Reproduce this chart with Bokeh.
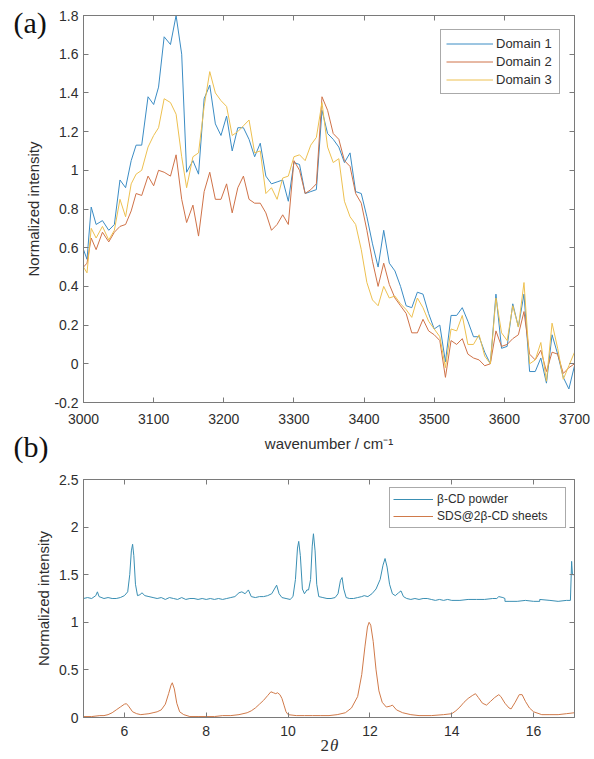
from bokeh.plotting import figure
from bokeh.models import (Range1d, LinearAxis, FixedTicker, CustomJSTickFormatter,
                          Legend, LegendItem, Label, GridBox)
from bokeh.layouts import column
from bokeh.embed import file_html
from bokeh.resources import INLINE

# ---------------- data: panel (a) ----------------
wavenumber = [3000, 3005, 3011, 3018, 3027, 3036, 3044, 3052, 3060, 3068, 3075, 3083,
              3092, 3100, 3107, 3115, 3124, 3132, 3140, 3147, 3156, 3164, 3172,
              3180, 3188, 3196, 3204, 3212, 3220, 3228, 3236, 3244, 3252, 3260, 3268,
              3276, 3284, 3292, 3300, 3308, 3316, 3324, 3332, 3340, 3348, 3356, 3364,
              3372, 3380, 3388, 3396, 3404, 3412, 3420, 3428, 3436, 3444, 3452, 3460,
              3468, 3476, 3484, 3492, 3500, 3508, 3516, 3524, 3532, 3540, 3548, 3556,
              3564, 3572, 3580, 3588, 3596, 3604, 3612, 3620, 3628, 3636, 3644, 3652,
              3660, 3668, 3676, 3684, 3692, 3700]

domain1 = [0.59, 0.54, 0.81, 0.72, 0.74, 0.69, 0.72, 0.95, 0.91, 1.05, 1.13, 1.13,
           1.38, 1.34, 1.43, 1.69, 1.65, 1.80, 1.60, 0.99, 1.05, 0.98, 1.37,
           1.44, 1.24, 1.18, 1.28, 1.10, 1.22, 1.22, 1.16, 1.07, 1.14, 0.97, 0.93,
           0.94, 0.95, 0.84, 1.04, 1.03, 0.88, 0.89, 0.90, 1.31, 1.19, 1.16, 1.12,
           1.04, 1.09, 0.89, 0.88, 0.76, 0.62, 0.50, 0.69, 0.52, 0.48, 0.40, 0.30,
           0.29, 0.37, 0.36, 0.26, 0.18, 0.20, 0.01, 0.25, 0.25, 0.29, 0.22, 0.14,
           0.14, 0.06, 0.00, 0.36, 0.08, 0.09, 0.31, 0.19, 0.36, -0.04, -0.04, 0.03,
           -0.10, 0.15, 0.05, -0.07, -0.13, -0.01]

domain2 = [0.50, 0.52, 0.65, 0.59, 0.68, 0.63, 0.68, 0.71, 0.72, 0.79, 0.88, 0.87,
           0.97, 0.92, 1.00, 0.99, 0.97, 1.08, 0.85, 0.73, 0.82, 0.66, 0.89,
           0.99, 0.85, 0.85, 0.93, 0.78, 0.91, 0.97, 0.85, 0.83, 0.83, 0.78, 0.69,
           0.72, 0.77, 0.72, 1.05, 1.00, 0.88, 0.90, 0.93, 1.38, 1.31, 1.19, 1.16,
           1.05, 1.02, 0.88, 0.83, 0.69, 0.53, 0.40, 0.52, 0.41, 0.34, 0.30, 0.26,
           0.16, 0.16, 0.23, 0.17, 0.15, 0.12, -0.07, 0.12, 0.10, 0.13, 0.05, 0.03,
           0.02, -0.01, 0.00, 0.17, 0.09, 0.10, 0.13, 0.15, 0.27, 0.05, 0.02, 0.07,
           -0.04, 0.06, 0.05, -0.05, -0.02, 0.00]

domain3 = [0.50, 0.47, 0.70, 0.65, 0.71, 0.64, 0.69, 0.85, 0.76, 0.93, 0.98, 1.00,
           1.12, 1.18, 1.22, 1.37, 1.35, 1.29, 1.07, 0.91, 1.07, 1.09, 1.33,
           1.51, 1.40, 1.36, 1.33, 1.18, 1.20, 1.23, 1.26, 1.09, 1.10, 0.88, 0.91,
           0.85, 0.96, 0.97, 1.07, 1.08, 1.05, 1.13, 1.17, 1.35, 1.12, 1.04, 1.06,
           0.84, 0.76, 0.72, 0.59, 0.42, 0.33, 0.30, 0.40, 0.34, 0.35, 0.31, 0.28,
           0.24, 0.34, 0.29, 0.22, 0.18, 0.14, -0.02, 0.18, 0.17, 0.25, 0.10, 0.10,
           0.15, 0.04, 0.00, 0.34, 0.16, 0.12, 0.30, 0.19, 0.42, 0.00, 0.02, 0.11,
           -0.09, 0.21, 0.08, -0.08, -0.01, 0.06]

a_xticks = [3000, 3100, 3200, 3300, 3400, 3500, 3600, 3700]
a_yticks = [-0.2, 0, 0.2, 0.4, 0.6, 0.8, 1, 1.2, 1.4, 1.6, 1.8]
a_names = ["Domain 1", "Domain 2", "Domain 3"]

# ---------------- data: panel (b) ----------------
powder_2theta = [5.0, 5.1, 5.2, 5.3, 5.34, 5.38, 5.5, 5.6, 5.7, 5.8, 5.9, 6.0, 6.08,
                 6.13, 6.17, 6.2, 6.23, 6.27, 6.32, 6.38, 6.43, 6.5, 6.6, 6.7, 6.8,
                 6.9, 7.0, 7.1, 7.2, 7.3, 7.4, 7.5, 7.6, 7.7, 7.8, 7.9, 8.0, 8.1, 8.2,
                 8.3, 8.4, 8.5, 8.6, 8.7, 8.8, 8.87, 8.95, 9.03, 9.1, 9.2, 9.3, 9.4,
                 9.5, 9.6, 9.68, 9.72, 9.78, 9.85, 9.95, 10.05, 10.12, 10.18, 10.23,
                 10.26, 10.3, 10.35, 10.4, 10.46, 10.5, 10.55, 10.59, 10.62, 10.66,
                 10.7, 10.75, 10.85, 10.95, 11.05, 11.15, 11.22, 11.28, 11.32, 11.36,
                 11.42, 11.5, 11.6, 11.7, 11.8, 11.86, 11.95, 12.05, 12.15, 12.25,
                 12.32, 12.37, 12.42, 12.48, 12.55, 12.62, 12.7, 12.76, 12.82, 12.9,
                 13.0, 13.1, 13.2, 13.3, 13.4, 13.5, 13.6, 13.7, 13.8, 13.9, 14.0,
                 14.2, 14.4, 14.6, 14.8, 15.0, 15.1, 15.15, 15.25, 15.3, 15.3, 15.4,
                 15.6, 15.8, 16.0, 16.15, 16.15, 16.4, 16.6, 16.8, 16.9, 16.93, 16.95,
                 17.0]
powder = [1.25, 1.26, 1.25, 1.28, 1.32, 1.27, 1.25, 1.26, 1.25, 1.25, 1.26, 1.28, 1.32,
          1.50, 1.75, 1.82, 1.70, 1.40, 1.28, 1.29, 1.31, 1.28, 1.27, 1.26, 1.25,
          1.26, 1.24, 1.26, 1.25, 1.24, 1.26, 1.24, 1.25, 1.25, 1.24, 1.25, 1.24, 1.25, 1.24,
          1.25, 1.24, 1.25, 1.26, 1.27, 1.31, 1.32, 1.30, 1.34, 1.27, 1.26, 1.27, 1.27,
          1.28, 1.30, 1.36, 1.39, 1.30, 1.26, 1.25, 1.24, 1.27, 1.45, 1.78,
          1.85, 1.70, 1.35, 1.30, 1.34, 1.34, 1.45, 1.80, 1.93, 1.75,
          1.40, 1.27, 1.26, 1.25, 1.25, 1.26, 1.30, 1.44, 1.47, 1.35,
          1.26, 1.25, 1.25, 1.26, 1.27, 1.28, 1.27, 1.30, 1.35, 1.45,
          1.60, 1.67, 1.58, 1.40, 1.30, 1.28, 1.31, 1.33, 1.27, 1.25,
          1.24, 1.25, 1.24, 1.25, 1.25, 1.24, 1.23, 1.24, 1.23, 1.24, 1.23,
          1.23, 1.24, 1.24, 1.24, 1.25, 1.25, 1.27, 1.26, 1.25, 1.22, 1.22,
          1.22, 1.23, 1.22, 1.22, 1.24, 1.23, 1.22, 1.23, 1.23, 1.64, 1.50,
          1.50]

sheets_2theta = [5.0, 5.2, 5.4, 5.5, 5.6, 5.7, 5.8, 5.9, 6.0, 6.05, 6.1, 6.2, 6.3, 6.4,
                 6.5, 6.6, 6.7, 6.8, 6.9, 7.0, 7.08, 7.14, 7.17, 7.22, 7.28, 7.35,
                 7.45, 7.6, 7.8, 8.0, 8.2, 8.4, 8.6, 8.8, 9.0, 9.1, 9.2, 9.3, 9.4,
                 9.5, 9.58, 9.64, 9.7, 9.74, 9.8, 9.85, 9.9, 9.95, 10.0, 10.2, 10.4,
                 10.6, 10.8, 11.0, 11.2, 11.4, 11.55, 11.7, 11.8, 11.88, 11.94, 11.98,
                 12.02, 12.08, 12.15, 12.22, 12.3, 12.4, 12.5, 12.55, 12.65, 12.8,
                 13.0, 13.2, 13.5, 13.8, 14.0, 14.1, 14.2, 14.3, 14.4, 14.5, 14.58,
                 14.65, 14.75, 14.85, 14.95, 15.05, 15.15, 15.2, 15.3, 15.4, 15.45,
                 15.55, 15.65, 15.72, 15.8, 15.9, 16.0, 16.2, 16.4, 16.6, 16.8, 17.0]
sheets = [0.01, 0.01, 0.02, 0.02, 0.03, 0.05, 0.08, 0.11, 0.14, 0.145, 0.12, 0.06, 0.04, 0.03,
          0.035, 0.04, 0.05, 0.06, 0.08, 0.14, 0.25, 0.34, 0.365, 0.30, 0.15, 0.06,
          0.03, 0.01, 0.01, 0.01, 0.01, 0.02, 0.02, 0.03, 0.05, 0.07, 0.10, 0.14, 0.18,
          0.23, 0.27, 0.26, 0.25, 0.26, 0.24, 0.20, 0.13, 0.06, 0.03, 0.02, 0.02,
          0.02, 0.02, 0.02, 0.03, 0.05, 0.10, 0.22, 0.45, 0.75, 0.95, 1.00,
          0.97, 0.80, 0.50, 0.28, 0.16, 0.11, 0.12, 0.13, 0.08, 0.05,
          0.03, 0.02, 0.02, 0.03, 0.04, 0.07, 0.11, 0.16, 0.20, 0.23, 0.25,
          0.21, 0.15, 0.13, 0.17, 0.21, 0.24, 0.22, 0.15, 0.10, 0.09,
          0.16, 0.24, 0.24, 0.17, 0.10, 0.06, 0.03, 0.03, 0.03, 0.04, 0.05]

b_xticks = [6, 8, 10, 12, 14, 16]
b_yticks = [0, 0.5, 1, 1.5, 2, 2.5]
b_names = ["β-CD powder", "SDS@2β-CD sheets"]

panel_tags = ["(a)", "(b)"]
b_xlabel = ["2", "θ"]

# ---------------- style ----------------
AXIS_GRAY = "#7a7a7a"
TXT = "#2e2e2e"
FONT = "Liberation Sans"
SERIF = "Liberation Serif"
A_COLORS = ["#3b8cc4", "#cf7248", "#edc050"]
B_COLORS = ["#3a8fb3", "#d07a4a"]

FMT = "return String(Math.round(tick*10)/10);"


def style_axis(ax, ticks, show_labels=True, standoff=5):
    ax.ticker = FixedTicker(ticks=ticks)
    ax.formatter = CustomJSTickFormatter(code=FMT)
    ax.axis_line_color = AXIS_GRAY
    ax.major_tick_line_color = AXIS_GRAY
    ax.major_tick_in = 5
    ax.major_tick_out = 0
    ax.minor_tick_line_color = None
    ax.major_label_text_font = FONT
    if show_labels:
        ax.major_label_text_color = TXT
        ax.major_label_text_font_size = "14px"
        ax.major_label_standoff = standoff
    else:
        ax.major_label_text_color = None
        ax.major_label_text_font_size = "1px"
        ax.major_label_standoff = 0


def base_fig(w, h, xr, yr, bl, br, bt, bb):
    p = figure(width=w, height=h, x_range=Range1d(*xr), y_range=Range1d(*yr),
               output_backend="svg", toolbar_location=None,
               min_border_left=bl, min_border_right=br,
               min_border_top=bt, min_border_bottom=bb)
    p.xgrid.visible = False
    p.ygrid.visible = False
    p.outline_line_color = AXIS_GRAY
    p.background_fill_color = "white"
    p.border_fill_color = "white"
    return p


def style_label(ax, text, standoff):
    ax.axis_label = text
    ax.axis_label_text_font = FONT
    ax.axis_label_text_font_size = "15px"
    ax.axis_label_text_font_style = "normal"
    ax.axis_label_text_color = TXT
    ax.axis_label_standoff = standoff


# ---------------- panel (a) ----------------
pa = base_fig(594, 465, (3000, 3700), (-0.2, 1.8), 83, 18, 15, 63)
xa = pa.below[0]
ya = pa.left[0]
style_axis(xa, a_xticks, True, 11)
style_axis(ya, a_yticks, True, 5)
top_a = LinearAxis()
right_a = LinearAxis()
pa.add_layout(top_a, "above")
pa.add_layout(right_a, "right")
style_axis(top_a, a_xticks, False)
style_axis(right_a, a_yticks, False)
style_label(xa, "wavenumber / cm\u207b\u00b9", 8)
style_label(ya, "Normalized intensity", 9)

ra = []
for ys, c in zip([domain1, domain2, domain3], A_COLORS):
    ra.append(pa.line(wavenumber, ys, line_color=c, line_width=1))

leg_a = Legend(items=[LegendItem(label=n, renderers=[r]) for n, r in zip(a_names, ra)],
               location="top_right", margin=14, padding=5, spacing=1,
               glyph_width=47, glyph_height=17, label_height=17, label_width=58,
               label_standoff=3, label_text_font=FONT, label_text_font_size="13px",
               label_text_color=TXT, border_line_color="#555555", border_line_width=1,
               background_fill_color="white", background_fill_alpha=1)
pa.add_layout(leg_a)

# ---------------- panel (b) ----------------
pb = base_fig(594, 294, (5, 17), (0, 2.5), 82, 20, 14, 42)
xb = pb.below[0]
yb = pb.left[0]
style_axis(xb, b_xticks, True, 8)
style_axis(yb, b_yticks, True, 5)
top_b = LinearAxis()
right_b = LinearAxis()
pb.add_layout(top_b, "above")
pb.add_layout(right_b, "right")
style_axis(top_b, b_xticks, False)
style_axis(right_b, b_yticks, False)
style_label(yb, "Normalized intensity", 4)

rb = [pb.line(powder_2theta, powder, line_color=B_COLORS[0], line_width=1),
      pb.line(sheets_2theta, sheets, line_color=B_COLORS[1], line_width=1)]

leg_b = Legend(items=[LegendItem(label=n, renderers=[r]) for n, r in zip(b_names, rb)],
               location="top_right", margin=8, padding=3, spacing=1,
               glyph_width=40, glyph_height=16, label_height=16, label_width=125,
               label_standoff=4, label_text_font=FONT, label_text_font_size="12px",
               label_text_color=TXT, border_line_color="#555555", border_line_width=1,
               background_fill_color="white", background_fill_alpha=1)
pb.add_layout(leg_b)

# ---------------- transparent overlay for texts outside the frames ----------------
ov = figure(width=594, height=759, x_range=Range1d(0, 594), y_range=Range1d(759, 0),
            output_backend="svg", toolbar_location=None,
            x_axis_type=None, y_axis_type=None,
            min_border_left=0, min_border_right=0, min_border_top=0, min_border_bottom=0)
ov.xgrid.visible = False
ov.ygrid.visible = False
ov.outline_line_color = None
ov.background_fill_color = None
ov.border_fill_color = None

for tag, ty in zip(panel_tags, [22, 446]):
    ov.add_layout(Label(x=13, y=ty, text=tag, text_font=SERIF, text_font_size="30px",
                        text_color="#111111", text_baseline="alphabetic", text_align="left"))
ov.add_layout(Label(x=328.5, y=745, text=b_xlabel[0], text_font=SERIF, text_font_size="17px",
                    text_color=TXT, text_baseline="alphabetic", text_align="right"))
ov.add_layout(Label(x=329.5, y=745, text=b_xlabel[1], text_font=SERIF, text_font_size="17px",
                    text_font_style="italic", text_color=TXT,
                    text_baseline="alphabetic", text_align="left"))

stack = column(pa, pb, spacing=0)
grid = GridBox(children=[(stack, 0, 0), (ov, 0, 0)], spacing=0)
open("out.html", "w").write(file_html(grid, INLINE))
